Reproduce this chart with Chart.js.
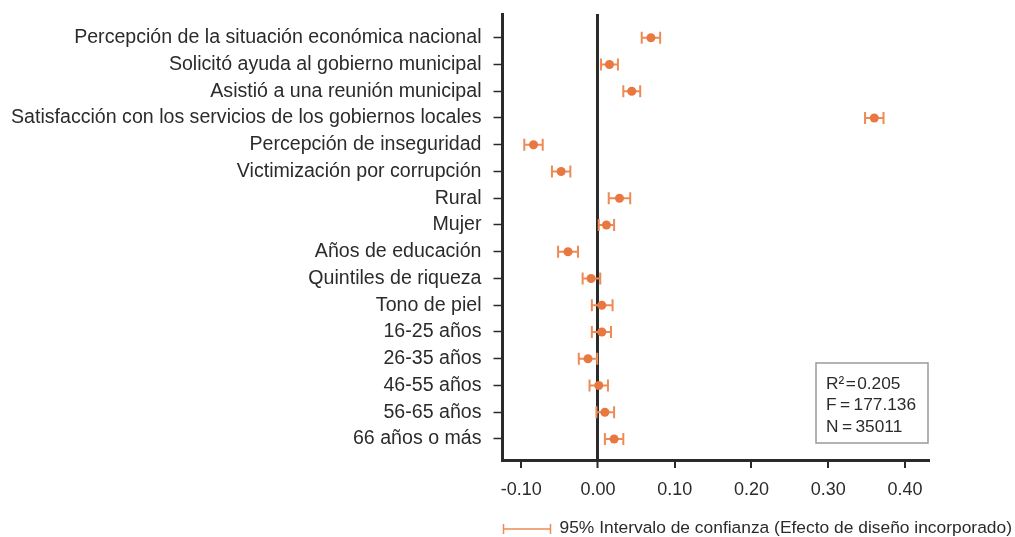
<!DOCTYPE html>
<html><head><meta charset="utf-8">
<script src="https://cdn.jsdelivr.net/npm/chart.js@4/dist/chart.umd.min.js"></script>
<style>html,body{margin:0;padding:0;background:#fff;}#wrap{width:1015px;height:537px;position:relative}</style>
</head><body><div id="wrap"><canvas id="c" width="1015" height="537"></canvas></div>
<script>
const categories = [
  'Percepción de la situación económica nacional',
  'Solicitó ayuda al gobierno municipal',
  'Asistió a una reunión municipal',
  'Satisfacción con los servicios de los gobiernos locales',
  'Percepción de inseguridad',
  'Victimización por corrupción',
  'Rural',
  'Mujer',
  'Años de educación',
  'Quintiles de riqueza',
  'Tono de piel',
  '16-25 años',
  '26-35 años',
  '46-55 años',
  '56-65 años',
  '66 años o más'
];
const estimates = [0.069, 0.015, 0.044, 0.360, -0.084, -0.048, 0.028, 0.011, -0.039, -0.009, 0.005, 0.005, -0.013, 0.001, 0.009, 0.021];
const lowerCI   = [0.057, 0.004, 0.033, 0.348, -0.096, -0.060, 0.014, 0.001, -0.052, -0.020, -0.008, -0.008, -0.025, -0.011, -0.002, 0.009];
const upperCI   = [0.081, 0.026, 0.055, 0.372, -0.072, -0.036, 0.042, 0.021, -0.026, 0.003, 0.019, 0.017, -0.001, 0.013, 0.021, 0.033];
const xTicks = [-0.10, 0.00, 0.10, 0.20, 0.30, 0.40];
const statsLines = ['R\u00B2\u200A=\u200A0.205', 'F\u2009=\u2009177.136', 'N\u2009=\u200935011'];
const legendLabel = '95% Intervalo de confianza (Efecto de diseño incorporado)';

const ORANGE = '#E8783F';
const BAR = '#EE8A55';
const AXIS = '#2a2a2a';
const TEXT = '#2b2b2b';
const FONT = '"Liberation Sans", Arial, sans-serif';

const errorBars = {
  id: 'errorBars',
  beforeDatasetsDraw(chart) {
    const {ctx, scales: {x, y}} = chart;
    ctx.save();
    ctx.strokeStyle = BAR;
    ctx.lineWidth = 2;
    for (let i = 0; i < estimates.length; i++) {
      const py = y.getPixelForValue(i);
      const x1 = x.getPixelForValue(lowerCI[i]);
      const x2 = x.getPixelForValue(upperCI[i]);
      ctx.beginPath();
      ctx.moveTo(x1, py); ctx.lineTo(x2, py);
      ctx.moveTo(x1, py - 6); ctx.lineTo(x1, py + 6);
      ctx.moveTo(x2, py - 6); ctx.lineTo(x2, py + 6);
      ctx.stroke();
    }
    ctx.restore();
  }
};

const extras = {
  id: 'extras',
  afterDraw(chart) {
    const {ctx, chartArea: a} = chart;
    ctx.save();
    // stats box
    const bw = 112, bh = 80;
    const bx = a.right - 114, by = a.bottom - 97;
    ctx.strokeStyle = '#9a9a9a';
    ctx.lineWidth = 1.5;
    ctx.strokeRect(bx, by, bw, bh);
    ctx.fillStyle = TEXT;
    ctx.font = '17.3px ' + FONT;
    ctx.textBaseline = 'middle';
    ctx.textAlign = 'left';
    statsLines.forEach((t, i) => ctx.fillText(t, bx + 10, by + 21 + i * 21.5));
    // legend
    const ly = 529, lx1 = a.left + 1, lx2 = a.left + 48;
    ctx.strokeStyle = BAR;
    ctx.lineWidth = 1.5;
    ctx.beginPath();
    ctx.moveTo(lx1, ly); ctx.lineTo(lx2, ly);
    ctx.moveTo(lx1, ly - 5); ctx.lineTo(lx1, ly + 5);
    ctx.moveTo(lx2, ly - 5); ctx.lineTo(lx2, ly + 5);
    ctx.stroke();
    ctx.fillStyle = TEXT;
    ctx.font = '17.4px ' + FONT;
    ctx.fillText(legendLabel, lx2 + 9, ly - 1);
    ctx.restore();
  }
};

new Chart(document.getElementById('c'), {
  type: 'scatter',
  data: {
    datasets: [{
      data: estimates.map((v, i) => ({x: v, y: i})),
      backgroundColor: ORANGE,
      borderWidth: 0,
      pointRadius: 4.5,
      pointHoverRadius: 4.5
    }]
  },
  options: {
    responsive: false,
    animation: false,
    devicePixelRatio: 1,
    layout: {padding: {top: 14, right: 85, bottom: 0, left: 0}},
    plugins: {legend: {display: false}, tooltip: {enabled: false}},
    scales: {
      x: {
        type: 'linear',
        min: -0.1244,
        max: 0.4326,
        afterBuildTicks(scale) { scale.ticks = xTicks.map(v => ({value: v})); },
        afterFit(scale) { scale.height = 77; scale.paddingLeft = 0; scale.paddingRight = 0; },
        ticks: {
          callback: (v) => Number(v).toFixed(2),
          color: TEXT,
          font: {family: FONT, size: 18},
          padding: 11,
          maxRotation: 0,
          autoSkip: false
        },
        grid: {
          drawOnChartArea: true,
          color: (c) => (c.tick && c.tick.value === 0) ? AXIS : 'rgba(0,0,0,0)',
          lineWidth: (c) => (c.tick && c.tick.value === 0) ? 3 : 0,
          tickColor: AXIS,
          tickWidth: 2,
          tickLength: 8
        },
        border: {color: AXIS, width: 3}
      },
      y: {
        type: 'linear',
        reverse: true,
        min: -0.886,
        max: 15.785,
        afterBuildTicks(scale) { scale.ticks = categories.map((_, i) => ({value: i})); },
        afterFit(scale) { scale.width = 502.5; scale.paddingTop = 0; scale.paddingBottom = 0; },
        ticks: {
          callback: (v, i) => categories[i],
          color: TEXT,
          font: {family: FONT, size: 19.6},
          padding: 12,
          autoSkip: false
        },
        grid: {
          drawOnChartArea: false,
          tickColor: AXIS,
          tickWidth: 1.5,
          tickLength: 9
        },
        border: {color: AXIS, width: 3}
      }
    }
  },
  plugins: [errorBars, extras]
});
</script>
</body></html>
